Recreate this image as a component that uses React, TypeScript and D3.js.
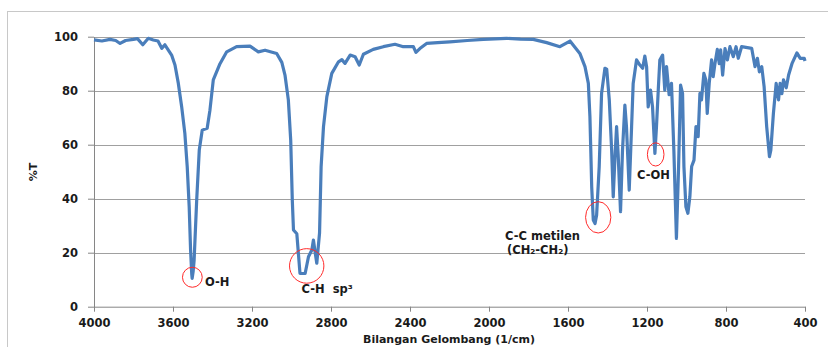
import React, { useEffect, useRef } from 'react';
import * as d3 from 'd3';

// IR spectrum: [wavenumber (1/cm), %T]
const spectrum: [number, number][] = [
  [4000, 98.8], [3960, 98.4], [3919, 99.0], [3890, 98.6], [3868, 97.5], [3840, 98.6],
  [3801, 99.0], [3780, 99.3], [3753, 97.0], [3725, 99.4], [3700, 98.8], [3676, 98.4],
  [3657, 95.7], [3641, 97.0], [3607, 93.2], [3590, 89.5], [3573, 82.7], [3556, 74.0],
  [3540, 64.2], [3528, 51.9], [3518, 37.0], [3511, 21.0], [3505, 12.0], [3503, 10.5],
  [3498, 13.0], [3493, 17.3], [3480, 39.5], [3467, 58.0], [3452, 65.4], [3427, 66.1],
  [3413, 72.8], [3396, 84.0], [3362, 90.0], [3328, 94.4], [3278, 96.3], [3210, 96.5],
  [3168, 94.4], [3134, 95.0], [3075, 93.8], [3049, 90.5], [3033, 85.8], [3016, 76.6],
  [3004, 61.7], [2996, 39.5], [2990, 28.4], [2973, 27.0], [2957, 12.3], [2931, 12.3],
  [2914, 18.5], [2897, 21.0], [2889, 24.7], [2880, 20.0], [2872, 16.1], [2858, 27.3],
  [2850, 51.9], [2838, 66.7], [2821, 77.8], [2796, 86.4], [2762, 90.7], [2745, 91.5],
  [2729, 90.1], [2703, 93.2], [2678, 92.6], [2657, 89.5], [2636, 93.5], [2586, 95.3],
  [2535, 96.3], [2476, 97.2], [2434, 96.3], [2383, 96.3], [2370, 94.2], [2350, 95.6],
  [2316, 97.5], [2260, 97.8], [2198, 98.1], [2110, 98.6], [2029, 99.0], [1911, 99.4],
  [1840, 99.1], [1776, 99.0], [1708, 97.8],
  [1641, 96.3], [1590, 98.4], [1540, 93.8], [1514, 88.9], [1497, 82.7], [1489, 70.4],
  [1485, 59.0], [1480, 44.4], [1472, 32.1], [1463, 30.8], [1455, 34.0], [1442, 51.9],
  [1430, 79.0], [1413, 88.3], [1404, 88.0], [1391, 76.6], [1379, 58.0], [1371, 40.7],
  [1362, 55.6], [1354, 66.7], [1346, 56.2], [1334, 35.2], [1324, 58.0], [1312, 74.7],
  [1304, 66.7], [1290, 43.2], [1278, 66.7], [1270, 82.7], [1253, 91.4], [1236, 89.5],
  [1222, 88.3], [1211, 92.8], [1202, 88.9], [1194, 74.0], [1182, 80.2], [1172, 74.0],
  [1160, 56.8], [1152, 66.7], [1143, 80.2], [1135, 91.4], [1121, 93.2], [1110, 80.2],
  [1101, 88.9], [1088, 78.5], [1076, 82.7], [1064, 58.0], [1051, 25.3], [1040, 51.9],
  [1030, 82.1], [1020, 79.0], [1013, 51.9], [1003, 37.0], [993, 34.6], [983, 40.7],
  [974, 51.9], [962, 54.3], [952, 66.7], [941, 63.0], [932, 79.0], [924, 76.6],
  [912, 86.4], [902, 84.0], [895, 71.6], [885, 82.7], [873, 91.4], [865, 85.2],
  [856, 90.0], [844, 95.3], [834, 90.0], [827, 95.1], [817, 85.8], [805, 95.6],
  [793, 91.4], [780, 96.3], [763, 92.6], [749, 96.3], [738, 92.0], [721, 96.3],
  [670, 95.7], [653, 88.9], [641, 92.0], [631, 87.0], [619, 88.9], [607, 81.5],
  [594, 66.7], [580, 55.6], [573, 58.0], [560, 71.6], [546, 82.7], [534, 76.6],
  [526, 82.7], [517, 78.9], [509, 84.0], [495, 81.1], [483, 85.8], [466, 90.0],
  [441, 94.0], [424, 92.0], [404, 92.0], [400, 91.0],
];

const xTicks = [4000, 3600, 3200, 2800, 2400, 2000, 1600, 1200, 800, 400];
const yTicks = [0, 20, 40, 60, 80, 100];

// marked peaks: centre (wavenumber, %T) and ellipse radii in axis units
const peakMarks = [
  { wn: 3502, t: 10.9, rwn: 50, rt: 3.7 },
  { wn: 2923, t: 15.1, rwn: 87, rt: 6.4 },
  { wn: 1447, t: 33.1, rwn: 64, rt: 5.8 },
  { wn: 1156, t: 56.4, rwn: 42, rt: 4.3 },
];

// peak labels: text anchored (start) at (wavenumber, %T)
const peakLabels = [
  { text: 'O-H', wn: 3438, t: 7.6 },
  { text: 'C-H  sp³', wn: 2949, t: 5.1 },
  { text: 'C-C metilen', wn: 1919, t: 24.7 },
  { text: '(CH₂-CH₂)', wn: 1909, t: 19.6 },
  { text: 'C-OH', wn: 1251, t: 47.3 },
];

const width = 828;
const height = 347;
const font = '"DejaVu Sans", Verdana, sans-serif';

const IrChart: React.FC = () => {
  const svgRef = useRef<SVGSVGElement | null>(null);

  useEffect(() => {
    if (!svgRef.current) return;

    const margin = { top: 36.7, right: 23, bottom: 40.3, left: 94 };
    const x = d3.scaleLinear().domain([4000, 400]).range([margin.left, width - margin.right]);
    const y = d3.scaleLinear().domain([0, 100]).range([height - margin.bottom, margin.top]);

    const svg = d3.select(svgRef.current);
    svg.selectAll('*').remove();

    // outer chart frame
    svg
      .append('rect')
      .attr('x', 7.5)
      .attr('y', 11.5)
      .attr('width', width + 10)
      .attr('height', height + 10)
      .attr('fill', 'none')
      .attr('stroke', '#c8c8c8');

    // horizontal gridlines
    svg
      .append('g')
      .selectAll('line')
      .data(yTicks.filter((d) => d > 0))
      .enter()
      .append('line')
      .attr('x1', x(4000))
      .attr('x2', x(400))
      .attr('y1', (d) => Math.round(y(d)) + 0.5)
      .attr('y2', (d) => Math.round(y(d)) + 0.5)
      .attr('stroke', '#a0a0a0');

    // y axis
    const yAxis = svg
      .append('g')
      .attr('transform', `translate(${margin.left},0)`)
      .call(d3.axisLeft(y).tickValues(yTicks).tickSize(6).tickSizeOuter(0).tickPadding(10));

    // x axis
    const xAxis = svg
      .append('g')
      .attr('transform', `translate(0,${height - margin.bottom})`)
      .call(
        d3
          .axisBottom(x)
          .tickValues(xTicks)
          .tickFormat(d3.format('d'))
          .tickSize(5)
          .tickSizeOuter(0)
          .tickPadding(7)
      );

    [yAxis, xAxis].forEach((g) => {
      g.selectAll('path, line').attr('stroke', '#868686');
      g.selectAll('text')
        .attr('fill', '#1a1a1a')
        .style('font-family', font)
        .style('font-size', '11.5px')
        .style('font-weight', 'bold');
    });

    // spectrum line
    const line = d3
      .line<[number, number]>()
      .x((d) => x(d[0]))
      .y((d) => y(d[1]));

    svg
      .append('path')
      .datum(spectrum)
      .attr('d', line)
      .attr('fill', 'none')
      .attr('stroke', '#4a7ebb')
      .attr('stroke-width', 3.2)
      .attr('stroke-linejoin', 'round');

    // red ellipses around the marked peaks
    svg
      .append('g')
      .selectAll('ellipse')
      .data(peakMarks)
      .enter()
      .append('ellipse')
      .attr('cx', (d) => x(d.wn))
      .attr('cy', (d) => y(d.t))
      .attr('rx', (d) => Math.abs(x(d.wn + d.rwn) - x(d.wn)))
      .attr('ry', (d) => Math.abs(y(d.t + d.rt) - y(d.t)))
      .attr('fill', 'none')
      .attr('stroke', '#ff2a2a')
      .attr('stroke-width', 1);

    // peak labels
    svg
      .append('g')
      .selectAll('text')
      .data(peakLabels)
      .enter()
      .append('text')
      .attr('x', (d) => x(d.wn))
      .attr('y', (d) => y(d.t))
      .attr('fill', '#1a1a1a')
      .style('font-family', font)
      .style('font-size', '11.5px')
      .style('font-weight', 'bold')
      .style('white-space', 'pre')
      .text((d) => d.text);

    // axis titles
    svg
      .append('text')
      .attr('x', 449)
      .attr('y', 343)
      .attr('text-anchor', 'middle')
      .attr('fill', '#1a1a1a')
      .style('font-family', font)
      .style('font-size', '11px')
      .style('font-weight', 'bold')
      .text('Bilangan Gelombang (1/cm)');

    svg
      .append('text')
      .attr('transform', 'translate(37,172) rotate(-90)')
      .attr('text-anchor', 'middle')
      .attr('fill', '#1a1a1a')
      .style('font-family', font)
      .style('font-size', '11px')
      .style('font-weight', 'bold')
      .text('%T');
  }, []);

  return (
    <svg
      ref={svgRef}
      width={width}
      height={height}
      style={{ position: 'absolute', left: 0, top: 0, background: '#fff' }}
    />
  );
};

export default function App() {
  return <IrChart />;
}
